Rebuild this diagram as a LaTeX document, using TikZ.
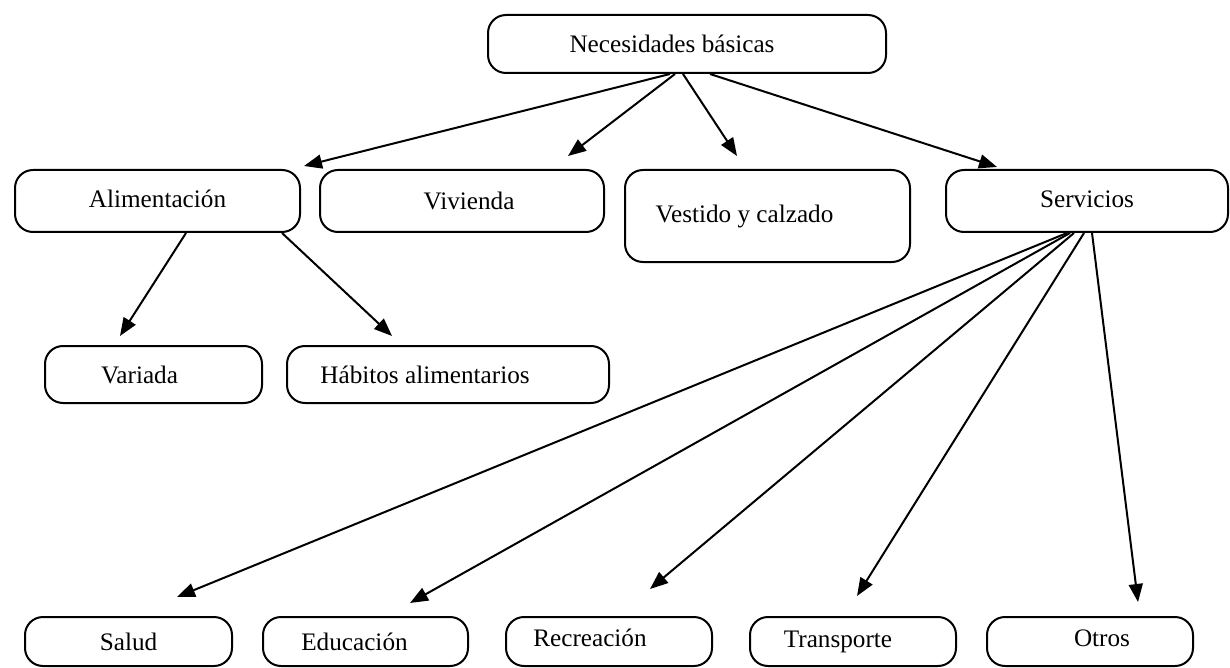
\documentclass[tikz,border=0pt]{standalone}
\usepackage{fontspec}
\setmainfont{Liberation Serif}
\usetikzlibrary{arrows.meta,calc}

\tikzset{
  box/.style={draw, line width=1pt, rounded corners=9pt, inner sep=0pt,
    font=\fontsize{12.6}{14}\selectfont},
  arr/.style={line width=1pt, -{Triangle[length=9pt,width=7pt]}}
}

\begin{document}
\begin{tikzpicture}[x=0.5pt,y=-0.5pt]
\useasboundingbox (0,0) rectangle (1230,668);
% Top level
\node[box, minimum width=199pt, minimum height=29pt] (nb) at (687,44) {Necesidades básicas\hspace*{15pt}};
% Second level
\node[box, minimum width=142.5pt, minimum height=31pt] (ali) at (157.5,201) {\raisebox{2pt}{Alimentación}};
\node[box, minimum width=142pt, minimum height=31pt] (viv) at (462,201) {\hspace*{7pt}Vivienda};
\node[box, minimum width=142.5pt, minimum height=46pt] (ves) at (767.5,216) {Vestido y calzado\hspace*{23pt}};
\node[box, minimum width=141pt, minimum height=31pt] (ser) at (1087,201) {\raisebox{2pt}{Servicios}};
% Alimentacion children
\node[box, minimum width=108.5pt, minimum height=28.5pt] (var) at (153.5,374.5) {Variada\hspace*{14pt}};
\node[box, minimum width=161pt, minimum height=28.5pt] (hab) at (448,374.5) {Hábitos alimentarios\hspace*{23pt}};
% Servicios children
\node[box, minimum width=103.5pt, minimum height=24.5pt] (sal) at (128.5,641.5) {Salud};
\node[box, minimum width=102.5pt, minimum height=24.5pt] (edu) at (365.5,641.5) {Educación\hspace*{11pt}};
\node[box, minimum width=103pt, minimum height=24.5pt] (rec) at (609,641.5) {\raisebox{4pt}{Recreación}\hspace*{19pt}};
\node[box, minimum width=103pt, minimum height=24.5pt] (tra) at (853,641.5) {\raisebox{1pt}{Transporte}\hspace*{15pt}};
\node[box, minimum width=103pt, minimum height=24.5pt] (otr) at (1090,641.5) {\hspace*{12pt}\raisebox{3pt}{Otros}};
% Arrows
\draw[arr] ($(nb.south)+(-17,0)$) -- ($(ali.north east)+(3,-3)$);
\draw[arr] ($(nb.south)+(-12,0)$) -- ($(viv.north)+(106,-13)$);
\draw[arr] ($(nb.south)+(-4,0)$) -- ($(ves.north)+(-30.5,-13)$);
\draw[arr] ($(nb.south)+(23,0)$) -- ($(ser.north)+(-90,-2)$);
\draw[arr] ($(ali.south)+(28.5,0)$) -- ($(var.north)+(-33.5,-9)$);
\draw[arr] ($(ali.south)+(124.5,0)$) -- ($(hab.north)+(-56,-9)$);
\foreach \t/\a/\b/\c in {sal/-20/48.5/-19, edu/-17/44.5/-13, rec/-13/41/-27,
    tra/-3/4/-20, otr/5/48/-14} {
  \draw[arr] ($(ser.south)+(\a,0)$) -- ($(\t.north)+(\b,\c)$);
}
\end{tikzpicture}
\end{document}
